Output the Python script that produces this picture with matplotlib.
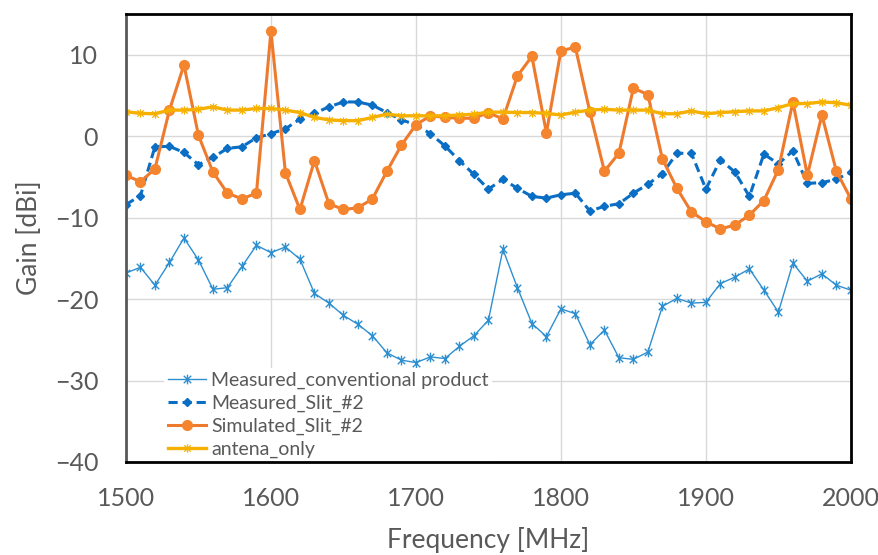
import numpy as np
import matplotlib.pyplot as plt
from matplotlib.path import Path

plt.rcParams['font.family'] = ['Lato', 'DejaVu Sans']

freq = np.arange(1500, 2001, 10)

measured_conv = [-16.8, -16.1, -18.3, -15.5, -12.5, -15.2, -18.8, -18.6, -16.0, -13.4,
                 -14.3, -13.6, -15.1, -19.3, -20.5, -22.0, -23.1, -24.5, -26.6, -27.5,
                 -27.8, -27.1, -27.3, -25.8, -24.5, -22.6, -13.9, -18.6, -23.0, -24.6,
                 -21.2, -21.8, -25.6, -23.8, -27.2, -27.4, -26.5, -20.9, -19.9, -20.5,
                 -20.4, -18.1, -17.3, -16.3, -18.9, -21.6, -15.6, -17.8, -16.9, -18.3,
                 -18.9]

measured_slit = [-8.4, -7.3, -1.3, -1.25, -2.0, -3.5, -2.6, -1.5, -1.3, -0.2,
                 0.3, 0.9, 2.1, 2.8, 3.6, 4.2, 4.2, 3.8, 2.9, 2.0,
                 1.4, 0.3, -1.2, -3.0, -4.7, -6.5, -5.3, -6.4, -7.4, -7.6,
                 -7.2, -7.0, -9.2, -8.6, -8.3, -7.0, -5.9, -4.6, -2.1, -2.1,
                 -6.5, -2.9, -4.4, -7.4, -2.2, -3.4, -1.8, -5.8, -5.7, -5.3,
                 -4.4]

simulated_slit = [-4.8, -5.6, -4.0, 3.2, 8.75, 0.1, -4.4, -7.0, -7.7, -7.0,
                  12.9, -4.5, -9.0, -3.0, -8.3, -9.0, -8.8, -7.7, -4.3, -1.1,
                  1.4, 2.5, 2.3, 2.2, 2.2, 2.9, 2.1, 7.4, 9.8, 0.4,
                  10.5, 10.9, 2.95, -4.3, -2.1, 5.9, 5.1, -2.8, -6.4, -9.3,
                  -10.5, -11.4, -10.9, -9.7, -7.9, -4.1, 4.2, -4.8, 2.6, -4.3,
                  -7.7]

antenna_only = [3.0, 2.8, 2.75, 3.2, 3.2, 3.3, 3.6, 3.2, 3.2, 3.4,
                3.4, 3.2, 2.9, 2.3, 2.0, 1.9, 1.9, 2.3, 2.7, 2.5,
                2.5, 2.5, 2.5, 2.6, 2.7, 2.95, 2.95, 2.9, 2.9, 2.8,
                2.6, 2.95, 3.2, 3.3, 3.2, 3.2, 3.2, 2.75, 2.75, 3.1,
                2.75, 2.9, 3.0, 3.1, 3.1, 3.5, 4.0, 4.0, 4.2, 4.1,
                3.8]

# x with a vertical bar through it
star = Path([(-1, -1), (1, 1), (-1, 1), (1, -1), (0, -1.3), (0, 1.3)],
            [Path.MOVETO, Path.LINETO, Path.MOVETO, Path.LINETO,
             Path.MOVETO, Path.LINETO])

fig = plt.figure(figsize=(8.79, 5.55), dpi=100)
ax = fig.add_axes([0.1433, 0.1676, 0.8247, 0.8072])

ax.plot(freq, measured_conv, color='#2E8FD0', lw=1.0, marker=star, ms=7,
        mew=1.0, label='Measured_conventional product')
ax.plot(freq, measured_slit, color='#0A6EC4', lw=2.2, ls=(0, (3, 1.6)), marker='D',
        ms=4.5, label='Measured_Slit_#2')
ax.plot(freq, simulated_slit, color='#EE7A2E', lw=2.2, marker='o', ms=7,
        mfc='#F5842F', mec='#F5842F', label='Simulated_Slit_#2')
ax.plot(freq, antenna_only, color='#F5B000', lw=2.4, marker=star, ms=6,
        mew=0.9, label='antena_only')

ax.set_xlim(1500, 2000)
ax.set_ylim(-40, 15)
ax.set_xticks(np.arange(1500, 2001, 100))
ax.set_yticks(np.arange(-40, 11, 10))
ax.grid(True, color='#D9D9D9', lw=1.0)
ax.set_axisbelow(True)
ax.tick_params(length=0, labelsize=18, labelcolor='#595959')
ax.tick_params(axis='x', pad=18)
ax.tick_params(axis='y', pad=20)

for side in ['top', 'right', 'bottom']:
    ax.spines[side].set_color('black')
    ax.spines[side].set_linewidth(2)
ax.spines['left'].set_color('#595959')
ax.spines['left'].set_linewidth(2)

ax.set_xlabel('Frequency [MHz]', fontsize=19, color='#595959', labelpad=12)
ax.set_ylabel('Gain [dBi]', fontsize=19, color='#595959', labelpad=9)

leg = ax.legend(loc='lower left', bbox_to_anchor=(0.053, 0.0), frameon=True,
                fontsize=14, handlelength=1.95, handletextpad=0.25,
                labelspacing=0.3, borderpad=0.2, borderaxespad=0.0,
                fancybox=False)
leg.get_frame().set_facecolor('white')
leg.get_frame().set_edgecolor('none')
leg.get_frame().set_alpha(1.0)
leg.set_zorder(2.4)
for txt in leg.get_texts():
    txt.set_color('#595959')

fig.savefig('out.png', dpi=100)
